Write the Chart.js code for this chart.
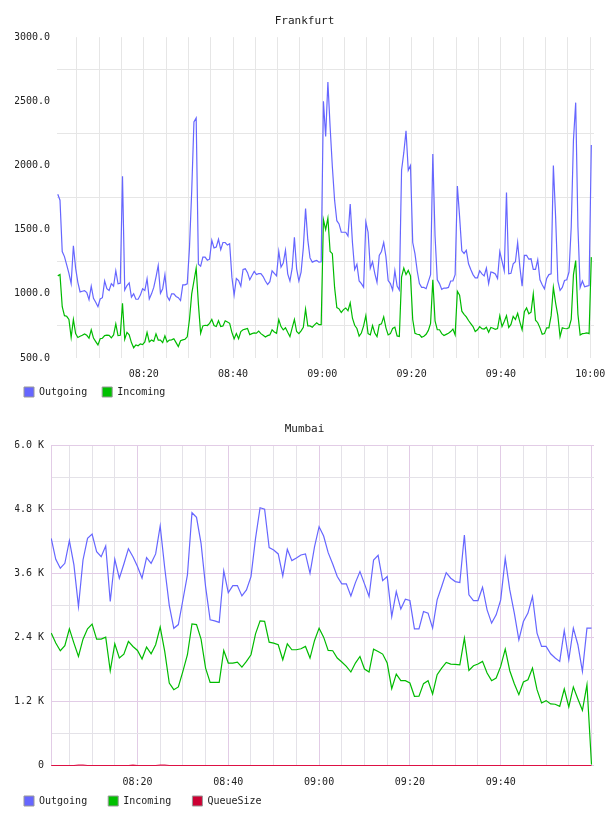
<!DOCTYPE html>
<html>
<head>
<meta charset="utf-8">
<title>Traffic</title>
<script src="https://cdn.jsdelivr.net/npm/chart.js@4/dist/chart.umd.min.js"></script>
<style>
  body { margin: 0; background: #fff; }
  canvas { display: block; }
</style>
</head>
<body>
<canvas id="fra" width="608" height="407"></canvas>
<canvas id="bom" width="608" height="409"></canvas>
<script>
// Frankfurt: samples every 30 s starting 08:00:45 (minutes after 08:00)
const fraStart = 0.75;
const fraStep = 0.5;
const fraOutgoing = [
  1776, 1730, 1330, 1290, 1225, 1160, 1080, 1375, 1200, 1090,
  1015, 1020, 1025, 1010, 955, 1060, 965, 935, 900, 960,
  970, 1100, 1040, 1026, 1080, 1060, 1180, 1078, 1083, 1917,
  1030, 1065, 1085, 974, 1000, 958, 958, 990, 1040, 1026,
  1117, 960, 1000, 1050, 1130, 1221, 1005, 1040, 1150, 980,
  950, 1000, 1000, 980, 970, 948, 1070, 1070, 1078, 1360,
  1800, 2340, 2370, 1230, 1215, 1286, 1286, 1262, 1270, 1417,
  1358, 1365, 1425, 1345, 1400, 1400, 1380, 1390, 1130, 990,
  1120, 1104, 1060, 1190, 1195, 1165, 1110, 1143, 1175, 1150,
  1157, 1158, 1135, 1100, 1073, 1095, 1180, 1160, 1140, 1330,
  1208, 1240, 1340, 1156, 1100, 1200, 1440, 1195, 1100, 1170,
  1360, 1664, 1420, 1280, 1247, 1255, 1260, 1247, 1250, 2500,
  2226, 2650, 2300, 1990, 1730, 1570, 1545, 1480, 1480, 1480,
  1450, 1700, 1400, 1190, 1230, 1100, 1080, 1052, 1560, 1480,
  1200, 1250, 1160, 1090, 1300, 1330, 1400, 1290, 1104, 1080,
  1030, 1180, 1060, 1030, 1963, 2100, 2270, 1963, 2000, 1400,
  1313, 1180, 1080, 1050, 1050, 1040, 1095, 1150, 2090, 1450,
  1110, 1080, 1035, 1045, 1045, 1050, 1100, 1100, 1150, 1840,
  1600, 1335, 1315, 1340, 1234, 1190, 1150, 1125, 1125, 1180,
  1156, 1140, 1200, 1080, 1170, 1165, 1155, 1120, 1330, 1255,
  1180, 1790, 1156, 1160, 1234, 1250, 1400, 1208, 1060, 1300,
  1300, 1270, 1273, 1190, 1190, 1265, 1110, 1070, 1039, 1120,
  1150, 1156, 2000, 1600, 1100, 1027, 1050, 1104, 1110, 1170,
  1521, 2200, 2490, 1520, 1050, 1100, 1055, 1060, 1065, 2160
];
const fraIncoming = [
  1140, 1150, 900, 830, 825, 800, 660, 800, 690, 660,
  670, 677, 688, 677, 654, 720, 655, 628, 602, 650,
  654, 675, 678, 677, 657, 680, 766, 675, 677, 927,
  646, 700, 680, 620, 580, 602, 595, 610, 604, 625,
  700, 625, 640, 630, 688, 640, 640, 620, 672, 625,
  640, 641, 650, 620, 589, 635, 641, 646, 665, 800,
  1000, 1100, 1200, 920, 693, 750, 755, 753, 770, 800,
  753, 745, 790, 745, 750, 790, 780, 770, 700, 650,
  690, 650, 706, 720, 725, 730, 682, 690, 695, 693,
  710, 690, 677, 664, 674, 680, 720, 703, 693, 800,
  745, 719, 735, 700, 667, 735, 800, 706, 690, 712,
  740, 880, 750, 750, 740, 758, 775, 760, 760, 1578,
  1500, 1590, 1330, 1313, 1050, 893, 883, 855, 877, 890,
  868, 930, 810, 755, 730, 670, 695, 750, 830, 690,
  680, 753, 695, 667, 760, 766, 820, 735, 680, 690,
  730, 740, 672, 667, 1130, 1200, 1150, 1182, 1140, 800,
  693, 685, 682, 662, 670, 685, 715, 770, 1110, 790,
  720, 720, 690, 675, 684, 693, 706, 725, 680, 1020,
  990, 865, 840, 820, 792, 768, 745, 706, 720, 745,
  729, 726, 740, 700, 738, 732, 724, 730, 830, 745,
  785, 830, 738, 762, 825, 800, 848, 780, 720, 860,
  890, 845, 857, 1000, 795, 775, 735, 685, 690, 735,
  735, 830, 1050, 930, 830, 667, 735, 730, 728, 736,
  800, 1150, 1260, 840, 680, 690, 692, 695, 690, 1286
];
const fraYTicks = [500, 1000, 1500, 2000, 2500, 3000];

// Mumbai: one sample per minute, 08:01 .. 10:00
const bomStart = 1;
const bomStep = 1;
const bomOutgoing = [
  4255, 3863, 3695, 3788, 4211, 3757, 2977, 3850, 4255, 4336,
  4005, 3912, 4112, 3071, 3863, 3508, 3775, 4062, 3912, 3726,
  3508, 3894, 3788, 3963, 4486, 3700, 3000, 2570, 2640, 3100,
  3570, 4735, 4648, 4162, 3352, 2729, 2710, 2680, 3648, 3239,
  3370, 3370, 3177, 3289, 3539, 4255, 4828, 4803, 4081, 4037,
  3963, 3551, 4050, 3838, 3888, 3944, 3963, 3600, 4100, 4473,
  4299, 3987, 3775, 3539, 3402, 3402, 3177, 3426, 3632, 3402,
  3165, 3850, 3938, 3464, 3539, 2790, 3258, 2930, 3115, 3090,
  2560, 2560, 2885, 2854, 2573, 3102, 3352, 3613, 3508, 3445,
  3426, 4318, 3196, 3090, 3090, 3339, 2916, 2667, 2822, 3102,
  3881, 3289, 2854, 2355, 2697, 2854, 3165, 2480, 2230, 2230,
  2093, 2013, 1950, 2530, 1981, 2573, 2262, 1763, 2573, 2573
];
const bomIncoming = [
  2480, 2293, 2150, 2243, 2560, 2293, 2043, 2367, 2560, 2648,
  2367, 2367, 2405, 1775, 2280, 2013, 2087, 2324, 2230, 2155,
  1994, 2218, 2093, 2262, 2592, 2137, 1546, 1421, 1471, 1763,
  2075, 2654, 2640, 2367, 1825, 1557, 1557, 1557, 2155, 1919,
  1919, 1938, 1844, 1950, 2075, 2467, 2710, 2700, 2311, 2293,
  2262, 1981, 2280, 2168, 2168, 2187, 2230, 2013, 2343, 2573,
  2405, 2155, 2150, 2013, 1938, 1856, 1751, 1919, 2043, 1807,
  1751, 2180, 2137, 2087, 1919, 1440, 1713, 1589, 1589, 1546,
  1296, 1300, 1533, 1589, 1340, 1701, 1825, 1931, 1900, 1894,
  1887, 2386, 1782, 1869, 1900, 1950, 1732, 1589, 1639, 1856,
  2180, 1775, 1533, 1327, 1564, 1607, 1825, 1421, 1172, 1215,
  1153, 1147, 1109, 1433, 1097, 1471, 1246, 1034, 1514, 20
];
const bomQueueSize = [
  0, 0, 0, 0, 0, 0, 8, 6, 0, 0,
  0, 0, 0, 0, 0, 0, 0, 0, 6, 0,
  0, 0, 0, 0, 8, 6, 0, 0, 0, 0,
  0, 0, 0, 0, 0, 0, 0, 0, 0, 0,
  0, 0, 0, 0, 0, 0, 0, 0, 0, 0,
  0, 0, 0, 0, 0, 0, 0, 0, 0, 0,
  0, 0, 0, 0, 0, 0, 0, 0, 0, 0,
  0, 0, 0, 0, 0, 0, 0, 0, 0, 0,
  0, 0, 0, 0, 0, 0, 0, 0, 0, 0,
  0, 0, 0, 0, 0, 0, 0, 0, 0, 0,
  0, 0, 0, 0, 0, 0, 0, 0, 0, 0,
  0, 0, 0, 0, 0, 0, 0, 0, 0, 0
];
const bomYTicks = [0, 1200, 2400, 3600, 4800, 6000];

const mono = "'DejaVu Sans Mono', monospace";
const textColor = '#222';

function clock(min) {
  const h = 8 + Math.floor(min / 60);
  const m = Math.round(min % 60);
  return String(h).padStart(2, '0') + ':' + String(m).padStart(2, '0');
}

function points(start, step, values) {
  return values.map((v, i) => ({ x: start + i * step, y: v }));
}

function line(label, color, legendFill, data) {
  return {
    label: label,
    data: data,
    borderColor: color,
    backgroundColor: legendFill,
    borderWidth: 1.2,
    pointRadius: 0,
    tension: 0,
    fill: false,
  };
}

// grey-framed legend boxes; trailing spaces widen the gap between items
function legendLabels(gap) {
  return (chart) => Chart.defaults.plugins.legend.labels.generateLabels(chart).map((l, i, all) => ({
    ...l,
    text: i < all.length - 1 ? l.text + gap : l.text,
    strokeStyle: '#999',
    lineWidth: 1,
  }));
}

function noPad(scale) {
  scale.paddingLeft = 0;
  scale.paddingRight = 0;
  scale.paddingTop = 0;
  scale.paddingBottom = 0;
}

new Chart(document.getElementById('fra'), {
  type: 'line',
  data: {
    datasets: [
      line('Outgoing', '#6666ff', '#6666ff', points(fraStart, fraStep, fraOutgoing)),
      line('Incoming', '#00bb00', '#00c000', points(fraStart, fraStep, fraIncoming)),
    ],
  },
  options: {
    responsive: false,
    animation: false,
    devicePixelRatio: 1,
    layout: { padding: { left: 15, right: 14, top: 0, bottom: 0 } },
    plugins: {
      title: {
        display: true,
        text: 'Frankfurt',
        color: textColor,
        font: { family: mono, size: 11, weight: 'normal' },
        padding: { top: 15, bottom: 9 },
      },
      legend: {
        position: 'bottom',
        align: 'start',
        labels: {
          boxWidth: 10,
          boxHeight: 10,
          padding: 9,
          color: textColor,
          font: { family: mono, size: 10 },
          generateLabels: legendLabels(' '),
        },
      },
      tooltip: { enabled: false },
    },
    scales: {
      x: {
        type: 'linear',
        min: 0.58,
        max: 120.85,
        border: { display: false },
        grid: { color: '#e6e6e6', drawTicks: false },
        ticks: {
          stepSize: 5,
          includeBounds: false,
          autoSkip: false,
          maxRotation: 0,
          padding: 10,
          color: textColor,
          font: { family: mono, size: 10 },
          callback: (v) => (v % 20 === 0 ? clock(v) : ''),
        },
        afterFit: (s) => { s.height = 20; noPad(s); },
      },
      y: {
        min: 500,
        max: 3000,
        border: { display: false },
        grid: {
          drawTicks: false,
          color: (c) => (fraYTicks.includes(c.tick.value) ? 'rgba(0,0,0,0)' : '#e6e6e6'),
        },
        ticks: {
          stepSize: 250,
          padding: 7,
          color: textColor,
          font: { family: mono, size: 10 },
          callback: (v) => (fraYTicks.includes(v) ? v.toFixed(1) : ''),
        },
        afterFit: (s) => { s.width = 42; noPad(s); },
      },
    },
  },
});

const purple = '#e2cce6';
const grey = '#e4e2e8';

new Chart(document.getElementById('bom'), {
  type: 'line',
  data: {
    datasets: [
      line('Outgoing', '#6666ff', '#6666ff', points(bomStart, bomStep, bomOutgoing)),
      line('Incoming', '#00bb00', '#00c000', points(bomStart, bomStep, bomIncoming)),
      Object.assign(line('QueueSize', '#dd1144', '#cc0033', points(bomStart, bomStep, bomQueueSize)), { clip: false }),
    ],
  },
  options: {
    responsive: false,
    animation: false,
    devicePixelRatio: 1,
    layout: { padding: { left: 15, right: 14, top: 0, bottom: 0 } },
    plugins: {
      title: {
        display: true,
        text: 'Mumbai',
        color: textColor,
        font: { family: mono, size: 11, weight: 'normal' },
        padding: { top: 16, bottom: 9 },
      },
      legend: {
        position: 'bottom',
        align: 'start',
        labels: {
          boxWidth: 10,
          boxHeight: 10,
          padding: 9,
          color: textColor,
          font: { family: mono, size: 10 },
          generateLabels: legendLabels('  '),
        },
      },
      tooltip: { enabled: false },
    },
    scales: {
      x: {
        type: 'linear',
        min: 0.95,
        max: 120.55,
        border: { display: false },
        grid: {
          drawTicks: false,
          color: (c) => (c.tick.value % 20 === 0 ? purple : grey),
        },
        ticks: {
          stepSize: 5,
          includeBounds: false,
          autoSkip: false,
          maxRotation: 0,
          padding: 11,
          color: textColor,
          font: { family: mono, size: 10 },
          callback: (v) => (v % 20 === 0 && v < 120 ? clock(v) : ''),
        },
        afterFit: (s) => { s.height = 21.5; noPad(s); },
      },
      y: {
        min: 0,
        max: 6000,
        border: { display: true, color: purple },
        grid: {
          drawTicks: false,
          color: (c) => (bomYTicks.includes(c.tick.value) ? purple : grey),
        },
        ticks: {
          stepSize: 600,
          padding: 7,
          color: textColor,
          font: { family: mono, size: 10 },
          callback: (v) => (bomYTicks.includes(v) ? (v === 0 ? '0' : (v / 1000).toFixed(1) + ' K') : ''),
        },
        afterFit: (s) => { s.width = 36; noPad(s); },
      },
    },
  },
});
</script>
</body>
</html>
